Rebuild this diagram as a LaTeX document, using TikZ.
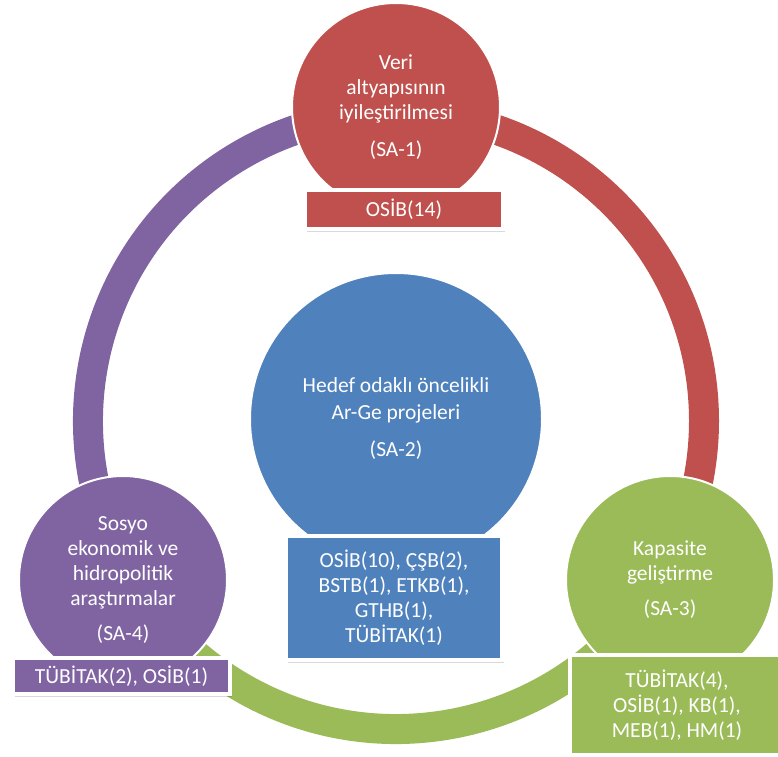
\documentclass[tikz,border=0pt]{standalone}
\usepackage{fontspec}
\setmainfont{Carlito}
\usetikzlibrary{shadows}

\definecolor{sared}{HTML}{C0504D}
\definecolor{sablue}{HTML}{4F81BD}
\definecolor{sagreen}{HTML}{9BBB59}
\definecolor{sapurple}{HTML}{8064A2}

\tikzset{
  ring/.style={line width=30pt},
  topic/.style={circle, fill=#1, draw=white, line width=2pt, inner sep=0pt,
    minimum size=208pt, text=white, align=center,
    font=\fontsize{21.5}{25}\selectfont},
  actors/.style={rectangle, fill=#1, draw=white, line width=4pt, inner sep=0pt,
    text=white, align=center, font=\fontsize{21.5}{25}\selectfont,
    drop shadow={shadow xshift=1.5pt, shadow yshift=-3pt, opacity=.15, fill=black}}
}

\begin{document}
\begin{tikzpicture}[x=1pt,y=1pt]
	\useasboundingbox (0,0) rectangle (778,756);
	\coordinate (o) at (396,335);

	% ring behind the circles
	\draw [ring, sared] (o) ++(90:308) arc [start angle=90, end angle=-30, radius=308];
	\draw [ring, sagreen] (o) ++(-30:308) arc [start angle=-30, end angle=-150, radius=308];
	\draw [ring, sapurple] (o) ++(210:308) arc [start angle=210, end angle=90, radius=308];

	\node [topic=sared] (sa1) at (396, 649) {Veri\\altyapısının\\iyileştirilmesi\\[12pt](SA-1)};
	\node [topic=sablue, minimum size=292pt] (sa2) at (396, 337) {Hedef odaklı öncelikli\\[2pt]Ar-Ge projeleri\\[12pt](SA-2)};
	\node [topic=sagreen] (sa3) at (670, 176) {Kapasite\\geliştirme\\[10pt](SA-3)};
	\node [topic=sapurple] (sa4) at (123, 176) {Sosyo\\ekonomik ve\\hidropolitik\\araştırmalar\\[10pt](SA-4)};

	\node [actors=sared, minimum width=198pt, minimum height=39pt] (sa1k) at (404, 546.5) {OSİB(14)};
	\node [actors=sablue, minimum width=216pt, minimum height=124pt] (sa2k) at (394, 158) {OSİB(10), ÇŞB(2),\\BSTB(1), ETKB(1),\\GTHB(1),\\TÜBİTAK(1)};
	\node [actors=sagreen, minimum width=214pt, minimum height=100pt] (sa3k) at (677, 51) {TÜBİTAK(4),\\OSİB(1), KB(1),\\MEB(1), HM(1)};
	\node [actors=sapurple, minimum width=217pt, minimum height=36pt] (sa4k) at (121.5, 80) {TÜBİTAK(2), OSİB(1)};
\end{tikzpicture}
\end{document}
